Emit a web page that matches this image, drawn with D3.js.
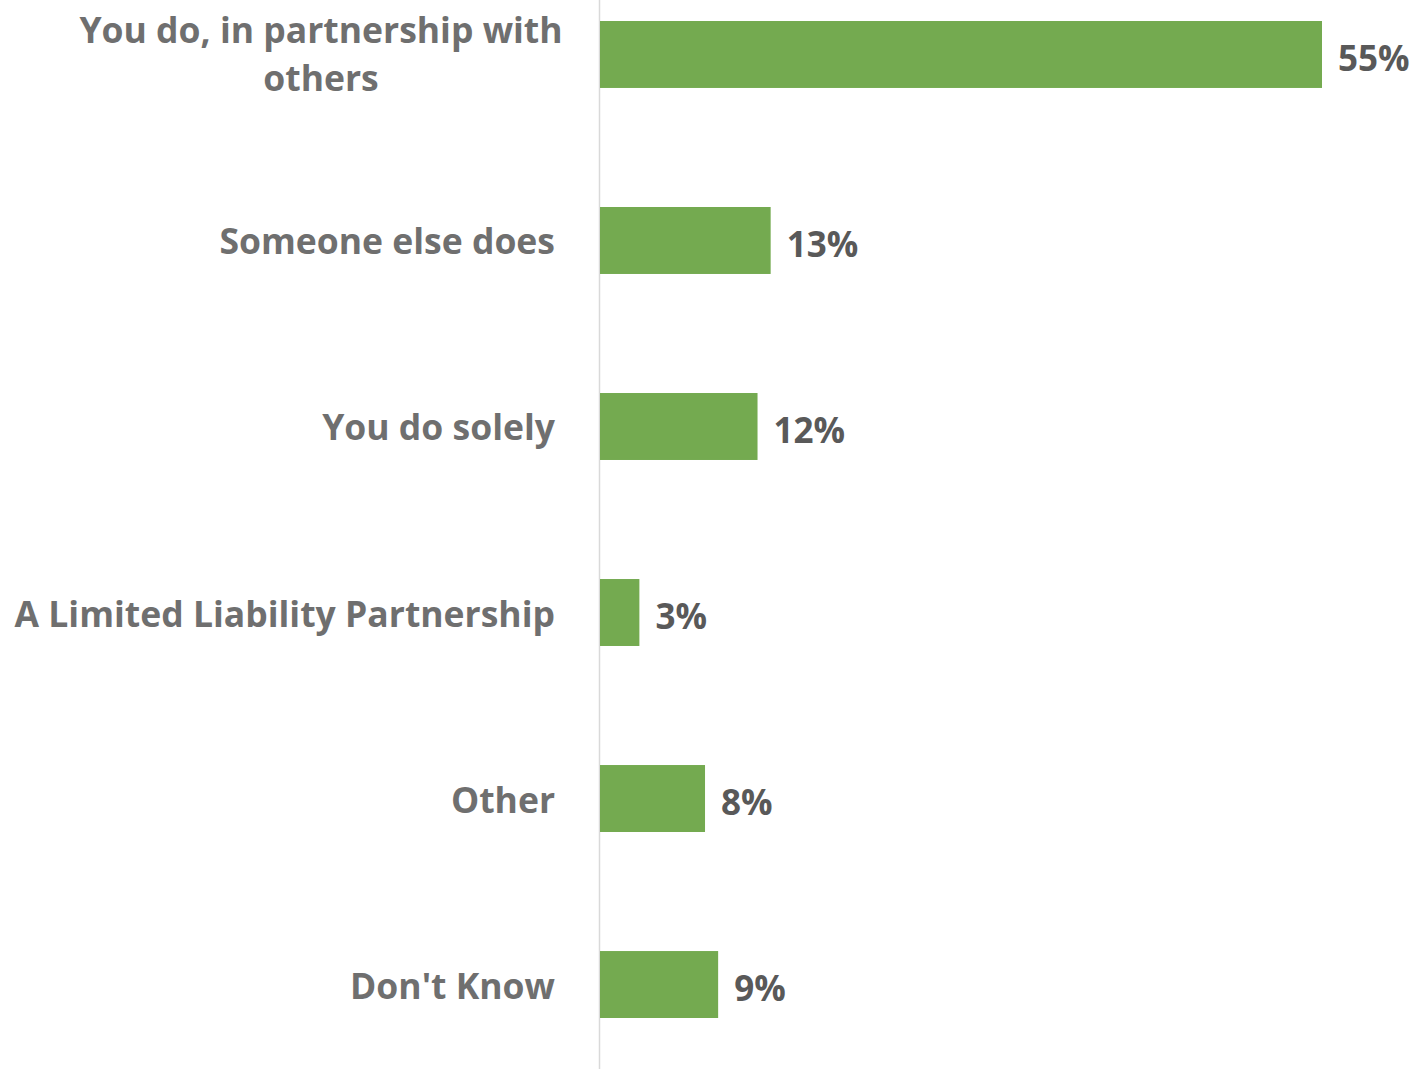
<!DOCTYPE html>
<html><head><meta charset="utf-8">
<script src="https://cdn.jsdelivr.net/npm/d3@7"></script>
<style>body{margin:0;background:#fff;}svg{display:block;}</style>
</head><body>
<svg id="c" width="1419" height="1069"></svg>
<script>
const categories = ["You do, in partnership with others", "Someone else does", "You do solely", "A Limited Liability Partnership", "Other", "Don't Know"];
const labelLines = [["You do, in partnership with", "others"], ["Someone else does"], ["You do solely"], ["A Limited Liability Partnership"], ["Other"], ["Don't Know"]];
const values = [55, 13, 12, 3, 8, 9];
const valueLabels = ["55%", "13%", "12%", "3%", "8%", "9%"];

const svg = d3.select("#c");
const font = "'Open Sans', 'Noto Sans', sans-serif";
const x = d3.scaleLinear().domain([0, 55]).range([600, 1322]);
const y = d3.scaleBand().domain(categories).range([21, 1018]).paddingInner(0.64).paddingOuter(0);

svg.append("line").attr("x1", 599.5).attr("x2", 599.5).attr("y1", 0).attr("y2", 1069)
  .attr("stroke", "#d9d9d9").attr("stroke-width", 1.5);

svg.selectAll("rect.bar").data(categories).join("rect").attr("class", "bar")
  .attr("x", x(0)).attr("y", d => y(d)).attr("width", (d, i) => x(values[i]) - x(0))
  .attr("height", y.bandwidth()).attr("fill", "#74aa50");

svg.selectAll("text.val").data(categories).join("text").attr("class", "val")
  .attr("x", (d, i) => x(values[i]) + 16).attr("y", d => y(d) + y.bandwidth() / 2 + 3)
  .attr("dominant-baseline", "central")
  .attr("font-family", font).attr("font-weight", 700).attr("font-size", 35)
  .attr("fill", "#595959").text((d, i) => valueLabels[i]);

const lab = svg.selectAll("g.lab").data(categories).join("g").attr("class", "lab");
lab.each(function(d, i) {
  const lines = labelLines[i];
  const cy = y(d) + y.bandwidth() / 2;
  const lh = 48;
  const g = d3.select(this);
  if (lines.length > 1) {
    lines.forEach((t, k) => {
      g.append("text").attr("x", 321).attr("y", cy + (k - (lines.length - 1) / 2) * lh - 1)
        .attr("text-anchor", "middle").attr("dominant-baseline", "central")
        .attr("font-family", font).attr("font-weight", 700).attr("font-size", 35.5)
        .attr("fill", "#6f6f6f").text(t);
    });
  } else {
    g.append("text").attr("x", 555).attr("y", cy)
      .attr("text-anchor", "end").attr("dominant-baseline", "central")
      .attr("font-family", font).attr("font-weight", 700).attr("font-size", 35.5)
      .attr("fill", "#6f6f6f").text(lines[0]);
  }
});
</script>
</body></html>
